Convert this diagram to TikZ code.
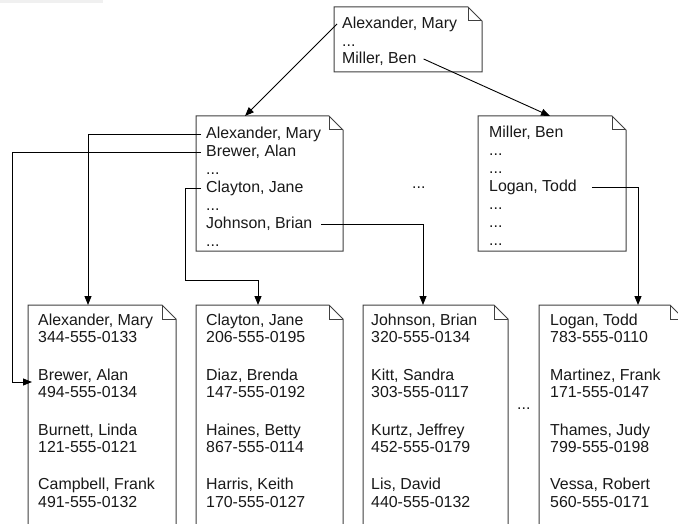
\documentclass[tikz,border=0pt]{standalone}
\usepackage{fontspec}
\setmainfont{Liberation Sans}
\usetikzlibrary{arrows.meta,calc}
\begin{document}
\begin{tikzpicture}[x=1pt,y=-1pt,
  txt/.style={anchor=base west, inner xsep=5pt, inner ysep=0pt,
    text height=12pt, text depth=2pt,
    font=\fontsize{15.9}{17.5}\selectfont, text=black!90},
  page/.style n args={2}{anchor=north west, draw=none, inner sep=0pt,
    outer sep=0pt, minimum width=#1pt, minimum height=#2pt},
  pageline/.style={draw=black!75, line width=1pt, line join=miter},
  link/.style={draw=black, line width=0.9pt, -{Triangle[length=9pt,width=7pt]}},
]
% canvas
\useasboundingbox (0,0) rectangle (678,524);
\clip (0,0) rectangle (678,524);
\fill[white] (0,0) rectangle (678,524);
\fill[black!6] (0,0) rectangle (103,3);

% outline of a page with a folded corner
\newcommand\pageoutline[1]{%
  \draw[pageline] (#1.south west) -- (#1.north west)
    -- ([xshift=-14pt]#1.north east) -- ([yshift=-14pt]#1.north east)
    -- (#1.south east) -- cycle;
  \draw[pageline] ([xshift=-14pt]#1.north east) |- ([yshift=-14pt]#1.north east);}

% pages
\node[page={148}{65}]  (root) at (334,7) {};
\node[page={147}{135}] (docL) at (196,116) {};
\node[page={148}{135}] (docR) at (478,116) {};
\node[page={148}{240}] (d1) at (28,305) {};
\node[page={147}{240}] (d2) at (196,305) {};
\node[page={145}{240}] (d3) at (363,305) {};
\node[page={145}{240}] (d4) at (539,305) {};
\foreach \n in {root,docL,docR,d1,d2,d3,d4} {\pageoutline{\n}}

% root index
\node[txt] (tA) at (337,29)   {Alexander, Mary};
\node[txt] (tD) at (337,46.5) {...};
\node[txt] (tM) at (337,64)   {Miller, Ben};

% left index
\node[txt] (lA)  at (201,139) {Alexander, Mary};
\node[txt] (lB)  at (201,157) {Brewer, Alan};
\node[txt] (lD1) at (201,175) {...};
\node[txt] (lC)  at (201,193) {Clayton, Jane};
\node[txt] (lD2) at (201,211) {...};
\node[txt] (lJ)  at (201,229) {Johnson, Brian};
\node[txt] (lD3) at (201,247) {...};

% right index
\node[txt] (rM)  at (484,138) {Miller, Ben};
\node[txt] (rD1) at (484,156) {...};
\node[txt] (rD2) at (484,174) {...};
\node[txt] (rL)  at (484,192) {Logan, Todd};
\node[txt] (rD3) at (484,210) {...};
\node[txt] (rD4) at (484,228) {...};
\node[txt] (rD5) at (484,246) {...};

% gaps between pages
\node[txt] (gapMid) at (407,189) {...};
\node[txt] (gapLow) at (512,409) {...};

% data pages
\node[txt] (aN1) at (33,325)   {Alexander, Mary};
\node[txt] (aP1) at (33,342.5) {344-555-0133};
\node[txt] (aN2) at (33,380)   {Brewer, Alan};
\node[txt] (aP2) at (33,397.5) {494-555-0134};
\node[txt] (aN3) at (33,435)   {Burnett, Linda};
\node[txt] (aP3) at (33,452.5) {121-555-0121};
\node[txt] (aN4) at (33,489.5) {Campbell, Frank};
\node[txt] (aP4) at (33,507)   {491-555-0132};

\node[txt] (bN1) at (201,325)   {Clayton, Jane};
\node[txt] (bP1) at (201,342.5) {206-555-0195};
\node[txt] (bN2) at (201,380)   {Diaz, Brenda};
\node[txt] (bP2) at (201,397.5) {147-555-0192};
\node[txt] (bN3) at (201,435)   {Haines, Betty};
\node[txt] (bP3) at (201,452.5) {867-555-0114};
\node[txt] (bN4) at (201,489.5) {Harris, Keith};
\node[txt] (bP4) at (201,507)   {170-555-0127};

\node[txt] (cN1) at (366,325)   {Johnson, Brian};
\node[txt] (cP1) at (366,342.5) {320-555-0134};
\node[txt] (cN2) at (366,380)   {Kitt, Sandra};
\node[txt] (cP2) at (366,397.5) {303-555-0117};
\node[txt] (cN3) at (366,435)   {Kurtz, Jeffrey};
\node[txt] (cP3) at (366,452.5) {452-555-0179};
\node[txt] (cN4) at (366,489.5) {Lis, David};
\node[txt] (cP4) at (366,507)   {440-555-0132};

\node[txt] (eN1) at (545,325)   {Logan, Todd};
\node[txt] (eP1) at (545,342.5) {783-555-0110};
\node[txt] (eN2) at (545,380)   {Martinez, Frank};
\node[txt] (eP2) at (545,397.5) {171-555-0147};
\node[txt] (eN3) at (545,435)   {Thames, Judy};
\node[txt] (eP3) at (545,452.5) {799-555-0198};
\node[txt] (eN4) at (545,489.5) {Vessa, Robert};
\node[txt] (eP4) at (545,507)   {560-555-0171};

% links
\draw[link] (tA.west) -- ($(docL.north west)+(49,0)$);
\draw[link] ([xshift=2pt]tM.east) -- ($(docR.north west)+(72,0)$);
\draw[link] (lA.west) -| ($(d1.north west)+(60,0)$);
\draw[link] (lB.west) -- ++(-189,0) |- ($(d1.north west)+(4,77)$);
\draw[link] (lC.west) -- ++(-16,0) -- ++(0,92) -| ($(d2.north west)+(62,0)$);
\draw[link] ([xshift=4pt]lJ.east) -| ($(d3.north west)+(60,0)$);
\draw[link] ([xshift=10pt]rL.east) -| ($(d4.north west)+(99,0)$);
\end{tikzpicture}
\end{document}
